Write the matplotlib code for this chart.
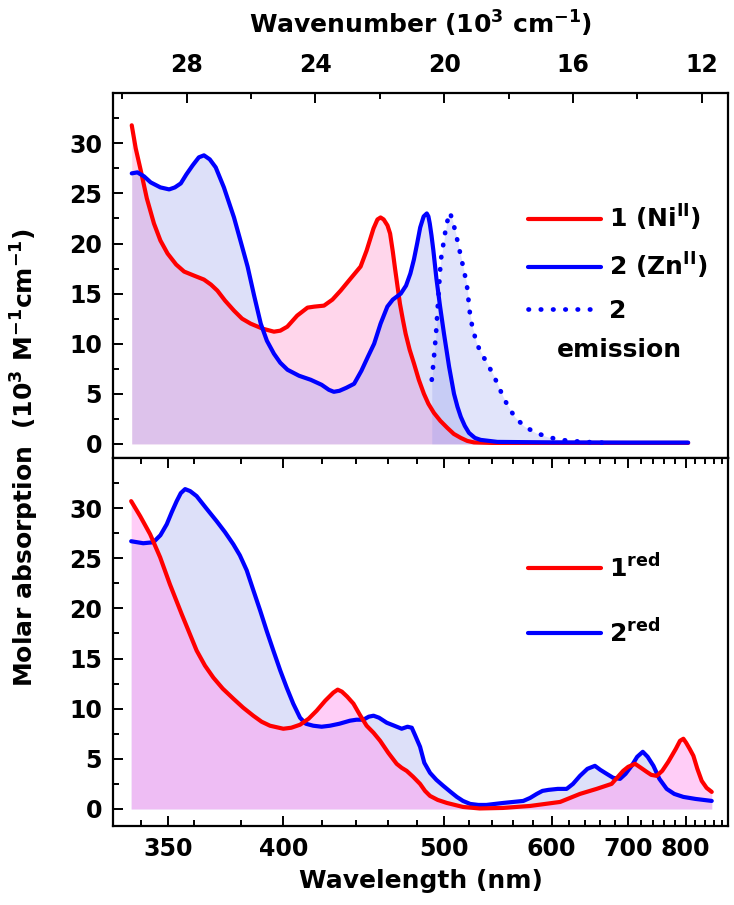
import numpy as np
import matplotlib
matplotlib.use('Agg')
import matplotlib.pyplot as plt

plt.rcParams['font.family'] = 'DejaVu Sans'
plt.rcParams['font.weight'] = 'bold'
plt.rcParams['axes.labelweight'] = 'bold'
plt.rcParams['mathtext.fontset'] = 'dejavusans'
plt.rcParams['mathtext.default'] = 'bf'

# top panel: absorption of 1 (Ni) and 2 (Zn), 10^3 M^-1 cm^-1 vs wavelength (nm)
ni_nm = [336.6, 338.0, 339.8, 342.0, 344.6, 347.0, 349.7, 353.0, 356.1, 360.0, 364.1, 367.0,
         369.7, 373.0, 376.9, 380.5, 384.4, 390.0, 395.4, 398.5, 402.0, 407.0, 412.4, 416.0,
         421.3, 426.0, 430.7, 436.0, 442.5, 446.2, 450.5, 453.0, 455.0, 457.0, 459.5, 461.2,
         463.0, 464.5, 467.8, 469.8, 471.7, 474.5, 477.6, 481.0, 484.7, 488.0, 492.1, 497.0,
         502.4, 507.5, 513.2, 518.5, 524.2, 540.0, 600.0, 700.0, 805.0]
ni_eps = [31.8, 29.5, 27.3, 24.5, 22.0, 20.3, 19.0, 17.9, 17.2, 16.8, 16.4, 15.9,
          15.3, 14.3, 13.3, 12.5, 12.0, 11.5, 11.2, 11.3, 11.7, 12.8, 13.6, 13.7,
          13.8, 14.4, 15.3, 16.4, 17.7, 19.3, 21.5, 22.4, 22.6, 22.4, 21.8, 21.0,
          19.2, 17.5, 14.0, 12.4, 11.0, 9.4, 8.0, 6.4, 5.0, 4.0, 3.1, 2.3,
          1.6, 1.0, 0.6, 0.3, 0.15, 0.1, 0.1, 0.1, 0.1]

zn_nm = [336.6, 338.6, 341.0, 343.4, 347.0, 350.3, 352.5, 354.8, 357.0, 359.5, 362.0, 364.1,
         366.5, 369.0, 372.5, 376.9, 380.0, 383.0, 386.0, 389.1, 392.0, 395.4, 398.5, 402.1,
         408.0, 414.1, 420.0, 424.0, 426.8, 430.0, 434.0, 438.6, 443.0, 447.0, 450.9, 455.0,
         459.4, 463.0, 468.4, 472.0, 475.0, 477.5, 479.8, 482.0, 484.5, 486.8, 488.0, 489.0,
         490.3, 491.7, 494.0, 496.8, 499.8, 503.8, 507.7, 510.5, 513.2, 516.5, 520.0, 525.0,
         530.0, 545.0, 600.0, 700.0, 805.0]
zn_eps = [27.0, 27.1, 26.7, 26.1, 25.6, 25.4, 25.6, 26.0, 26.9, 27.8, 28.6, 28.8,
          28.4, 27.6, 25.6, 22.6, 20.1, 17.7, 14.8, 12.0, 10.3, 9.0, 8.1, 7.4,
          6.8, 6.4, 5.9, 5.4, 5.2, 5.3, 5.6, 6.0, 7.3, 8.7, 10.0, 12.0,
          13.7, 14.4, 15.0, 15.8, 17.0, 18.4, 20.0, 21.6, 22.7, 23.0, 22.7, 22.0,
          20.8, 19.3, 16.5, 13.7, 11.0, 7.7, 5.0, 3.7, 2.7, 1.8, 1.1, 0.6,
          0.4, 0.2, 0.15, 0.13, 0.13]

em_nm = [490.5, 491.7, 493.7, 495.4, 497.3, 500.6, 501.9, 504.5, 507.2, 509.9, 514.0, 518.1,
         520.8, 522.6, 526.6, 530.9, 535.9, 541.3, 545.9, 550.6, 555.6, 561.8, 571.0, 583.1,
         595.6, 609.6, 623.4, 637.3, 655.2, 670.6]
em_int = [6.4, 8.0, 11.0, 14.5, 18.3, 21.0, 22.0, 23.1, 22.0, 20.6, 18.3, 16.0,
          13.0, 11.8, 10.0, 9.0, 8.0, 6.9, 5.8, 4.65, 3.65, 2.66, 1.75, 1.1,
          0.7, 0.4, 0.3, 0.2, 0.15, 0.1]

# bottom panel: reduced forms
ni_red_nm = [336.4, 339.6, 343.2, 346.9, 350.6, 355.2, 361.1, 364.5, 368.0, 372.0, 376.6, 381.0,
             385.6, 389.5, 393.5, 400.0, 404.0, 408.5, 413.0, 417.3, 422.0, 426.5, 429.0, 431.4,
             434.5, 438.2, 442.0, 446.2, 450.5, 454.7, 460.0, 465.6, 469.0, 472.4, 477.0, 481.9,
             485.5, 489.2, 495.0, 502.0, 515.0, 529.0, 550.0, 577.0, 609.8, 633.6, 655.0, 675.7,
             692.5, 700.0, 710.7, 720.0, 729.4, 737.0, 746.3, 756.0, 766.9, 781.0, 789.0, 795.5,
             801.0, 808.0, 815.7, 824.0, 833.3, 844.0, 855.5]
ni_red_eps = [30.7, 29.2, 27.4, 25.1, 22.4, 19.4, 15.8, 14.3, 13.1, 12.0, 11.0, 10.1,
              9.3, 8.7, 8.3, 8.0, 8.1, 8.4, 9.0, 9.8, 10.8, 11.6, 11.9, 11.7,
              11.2, 10.5, 9.4, 8.3, 7.6, 6.8, 5.6, 4.5, 4.1, 3.8, 3.2, 2.5,
              1.8, 1.3, 0.9, 0.6, 0.2, 0.05, 0.1, 0.3, 0.7, 1.5, 2.0, 2.5,
              3.8, 4.2, 4.5, 4.1, 3.7, 3.4, 3.3, 3.8, 4.7, 6.0, 6.8, 7.0,
              6.6, 6.0, 5.3, 4.0, 2.8, 2.1, 1.7]

zn_red_nm = [336.4, 340.7, 344.4, 347.0, 349.4, 351.3, 353.2, 354.8, 356.5, 358.5, 361.1, 365.0,
             369.4, 373.0, 376.6, 379.5, 382.6, 385.5, 388.8, 392.0, 395.1, 398.5, 401.7, 405.0,
             408.5, 411.5, 415.5, 420.0, 424.6, 430.0, 436.1, 440.0, 444.2, 447.5, 450.5, 454.0,
             459.0, 464.0, 469.0, 473.0, 476.0, 478.5, 481.9, 485.0, 489.2, 494.0, 499.3, 505.0,
             510.0, 515.0, 521.0, 528.0, 535.0, 550.5, 570.0, 577.0, 583.9, 590.0, 596.4, 607.0,
             617.4, 625.0, 633.6, 643.0, 652.8, 660.0, 668.8, 678.0, 687.8, 696.0, 705.3, 714.0,
             723.0, 731.0, 740.7, 751.0, 764.0, 778.0, 795.5, 820.0, 855.5]
zn_red_eps = [26.7, 26.5, 26.6, 27.3, 28.4, 29.6, 30.7, 31.5, 31.9, 31.7, 31.2, 30.0,
              28.7, 27.6, 26.4, 25.3, 23.8, 21.9, 19.8, 17.7, 15.8, 13.8, 12.1, 10.5,
              9.1, 8.5, 8.3, 8.2, 8.3, 8.5, 8.8, 8.9, 8.9, 9.2, 9.3, 9.1,
              8.6, 8.3, 8.0, 8.2, 8.1, 7.3, 6.2, 4.6, 3.6, 2.9, 2.3, 1.7,
              1.2, 0.8, 0.5, 0.4, 0.4, 0.6, 0.8, 1.1, 1.5, 1.8, 1.9, 2.0,
              2.0, 2.5, 3.3, 4.0, 4.3, 3.9, 3.5, 3.1, 3.0, 3.5, 4.3, 5.2,
              5.7, 5.2, 4.3, 3.0, 2.0, 1.5, 1.2, 1.0, 0.8]

nm_major = [350, 400, 500, 600, 700, 800]
nm_minor = [340, 360, 380, 420, 440, 460, 480, 520, 540, 560, 580, 620, 640, 660, 680,
            720, 740, 760, 780, 820, 840, 860, 880]
wn_major = [28, 24, 20, 16, 12]
wn_minor = [30, 26, 22, 18, 14]


def wn(nm):  # wavelength (nm) -> wavenumber (10^3 cm^-1)
    return 1e4 / np.asarray(nm, dtype=float)


RED = '#ff0000'
BLUE = '#0000ff'
red_fill = (1.0, 0.37, 0.69)
blue_fill = (0.48, 0.53, 0.92)
red_fill2 = (1.0, 0.61, 0.94)
line_kw = dict(lw=3, solid_capstyle='round', solid_joinstyle='round')

fig = plt.figure(figsize=(7.34, 9.05), dpi=100)
ax1 = fig.add_axes([0.154, 0.494, 0.838, 0.403])
ax2 = fig.add_axes([0.154, 0.0873, 0.838, 0.4066])

# ---- top panel
ax1.fill_between(wn(ni_nm), ni_eps, 0, color=red_fill, alpha=0.25, lw=0)
ax1.fill_between(wn(zn_nm), zn_eps, 0, color=blue_fill, alpha=0.25, lw=0)
ax1.fill_between(wn(em_nm), em_int, 0, color=blue_fill, alpha=0.22, lw=0)
l1, = ax1.plot(wn(ni_nm), ni_eps, color=RED, **line_kw)
l2, = ax1.plot(wn(zn_nm), zn_eps, color=BLUE, **line_kw)
l3, = ax1.plot(wn(em_nm), em_int, color=BLUE, lw=3.4, linestyle=(0, (0.1, 2.5)),
               dash_capstyle='round')

ax1.legend([l1, l2, l3], ['1 (Ni$^{II}$)', '2 (Zn$^{II}$)', '2'],
           loc='upper left', bbox_to_anchor=(0.675, 0.70), frameon=False,
           fontsize=18, handlelength=2.9, handletextpad=0.35,
           labelspacing=0.72, borderpad=0, borderaxespad=0)
ax1.text(0.824, 0.296, 'emission', transform=ax1.transAxes, fontsize=18,
         ha='center', va='center')

# ---- bottom panel
ax2.fill_between(wn(zn_red_nm), zn_red_eps, 0, color=blue_fill, alpha=0.25, lw=0)
ax2.fill_between(wn(ni_red_nm), ni_red_eps, 0, color=red_fill2, alpha=0.5, lw=0)
m2, = ax2.plot(wn(zn_red_nm), zn_red_eps, color=BLUE, **line_kw)
m1, = ax2.plot(wn(ni_red_nm), ni_red_eps, color=RED, **line_kw)
ax2.legend([m1, m2], ['1$^{red}$', '2$^{red}$'], loc='upper left',
           bbox_to_anchor=(0.675, 0.74), frameon=False, fontsize=18,
           handlelength=2.9, handletextpad=0.35, labelspacing=1.45,
           borderpad=0, borderaxespad=0)

xlim = (30.29, 11.18)
for ax, ylim in ((ax1, (-1.4, 35)), (ax2, (-1.7, 35))):
    ax.set_xlim(*xlim)
    ax.set_ylim(*ylim)
    ax.set_yticks([0, 5, 10, 15, 20, 25, 30])
    ax.set_yticks(np.arange(2.5, 35, 5), minor=True)
    for s in ax.spines.values():
        s.set_linewidth(1.6)
    ax.tick_params(which='both', direction='in', width=1.4, labelsize=17)
    ax.tick_params(which='major', length=7, pad=8)
    ax.tick_params(which='minor', length=4)
    ax.tick_params(axis='y', which='both', right=False)

# top panel: wavenumber scale on top
ax1.set_xticks(wn_major)
ax1.set_xticks(wn_minor, minor=True)
ax1.set_xticklabels([str(v) for v in wn_major])
ax1.tick_params(axis='x', which='both', top=True, bottom=False,
                labeltop=True, labelbottom=False)
ax1.tick_params(axis='x', which='major', pad=12)
ax1.xaxis.set_label_position('top')
ax1.set_xlabel('Wavenumber (10$^3$ cm$^{-1}$)', fontsize=18, labelpad=14)

# bottom panel: wavelength scale
ax2.set_xticks(wn(nm_major))
ax2.set_xticks(wn(nm_minor), minor=True)
ax2.set_xticklabels([str(v) for v in nm_major])
ax2.tick_params(axis='x', which='both', top=True, bottom=True, labeltop=False)
ax2.set_xlabel('Wavelength (nm)', fontsize=18, labelpad=6)

fig.text(0.034, 0.495, 'Molar absorption  (10$^3$ M$^{-1}$cm$^{-1}$)', rotation=90,
         fontsize=18, ha='center', va='center')

fig.savefig('out.png', dpi=100)
